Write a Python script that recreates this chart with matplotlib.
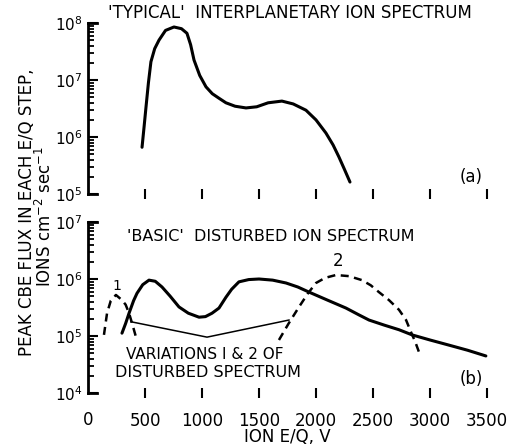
import matplotlib
matplotlib.use("Agg")
import matplotlib.pyplot as plt
import numpy as np

plt.rcParams['font.family'] = ['DejaVu Sans']
plt.rcParams['mathtext.fontset'] = 'dejavusans'

# ---- data ----
top_E = [474, 492, 509, 530, 552, 585, 623, 680, 754, 820, 868, 900, 930, 980, 1035,
         1090, 1149, 1210, 1290, 1386, 1480, 1580, 1701, 1800, 1912, 2000, 2087,
         2150, 2201, 2250, 2298]
top_logF = [5.82, 6.18, 6.53, 6.95, 7.32, 7.55, 7.70, 7.87, 7.93, 7.90, 7.82, 7.62, 7.35,
            7.08, 6.88, 6.76, 6.68, 6.60, 6.54, 6.51, 6.53, 6.60, 6.63, 6.58, 6.47,
            6.30, 6.07, 5.86, 5.65, 5.43, 5.21]

basic_E = [298, 330, 360, 400, 430, 480, 535, 590, 649, 720, 798, 880, 974, 1030, 1088,
           1149, 1210, 1260, 1324, 1410, 1500, 1620, 1737, 1840, 1939, 2100, 2263,
           2377, 2465, 2600, 2728, 2842, 3000, 3166, 3330, 3490]
basic_logF = [5.05, 5.22, 5.40, 5.62, 5.75, 5.90, 5.98, 5.96, 5.86, 5.70, 5.51, 5.40,
              5.33, 5.34, 5.40, 5.49, 5.68, 5.82, 5.95, 5.99, 6.00, 5.98, 5.93, 5.86,
              5.77, 5.63, 5.49, 5.37, 5.28, 5.19, 5.11, 5.02, 4.93, 4.84, 4.75, 4.65]

var1_E = [140, 167, 200, 245, 298, 330, 360, 390, 421]
var1_logF = [5.02, 5.40, 5.62, 5.72, 5.63, 5.55, 5.40, 5.20, 4.98]

var2_E = [1675, 1760, 1851, 1930, 2000, 2080, 2175, 2290, 2403, 2480, 2552, 2640,
          2728, 2790, 2833, 2870, 2903]
var2_logF = [4.93, 5.22, 5.51, 5.75, 5.93, 6.02, 6.07, 6.05, 5.98, 5.89, 5.77, 5.63,
             5.46, 5.28, 5.07, 4.90, 4.72]

pointer_E = [377, 1044, 1763]
pointer_logF = [5.25, 4.98, 5.28]

x_ticks = [500, 1000, 1500, 2000, 2500, 3000, 3500]
top_yticks = [1e5, 1e6, 1e7, 1e8]
top_ylabels = [r'$10^5$', r'$10^6$', r'$10^7$', r'$10^8$']
bot_yticks = [1e4, 1e5, 1e6, 1e7]
bot_ylabels = [r'$10^4$', r'$10^5$', r'$10^6$', r'$10^7$']

W, H = 514, 448
fig = plt.figure(figsize=(W / 100, H / 100), dpi=100)

left = 88 / W
right = 500 / W
xmax = 3614
ax1 = fig.add_axes([left, 1 - 194 / H, right - left, (194 - 23) / H])
ax2 = fig.add_axes([left, 1 - 393 / H, right - left, (393 - 222) / H])

for ax, yt, yl, ylim in [(ax1, top_yticks, top_ylabels, (1e5, 1e8)),
                         (ax2, bot_yticks, bot_ylabels, (1e4, 1e7))]:
    ax.set_yscale('log')
    ax.set_xlim(0, xmax)
    ax.set_ylim(*ylim)
    for s in ['top', 'right', 'bottom']:
        ax.spines[s].set_visible(False)
    ax.spines['left'].set_linewidth(2.0)
    ax.plot([0, 0.022], [0, 0], color='black', lw=2.0, transform=ax.transAxes,
            clip_on=False)
    ax.plot([0, 0.022], [1, 1], color='black', lw=2.0, transform=ax.transAxes,
            clip_on=False)
    ax.set_yticks(yt)
    ax.set_yticklabels(yl, fontsize=11)
    ax.tick_params(axis='y', which='major', direction='in', length=7, width=1.5, pad=4)
    ax.tick_params(axis='y', which='minor', direction='in', length=4.5, width=1.3)
    ax.set_xticks(x_ticks)
    ax.tick_params(axis='x', which='major', direction='inout', length=7, width=1.5)
    ax.patch.set_visible(False)

ax1.set_xticklabels([])
ax2.set_xticks([0], minor=True)
ax2.set_xticklabels(['0'], minor=True, fontsize=12)
ax2.set_xticklabels([str(v) for v in x_ticks], fontsize=12)
ax2.tick_params(axis='x', which='major', pad=10)
ax2.tick_params(axis='x', which='minor', length=0, pad=13)

ax1.plot(top_E, 10 ** np.array(top_logF), color='black', lw=2.2,
         solid_capstyle='round', solid_joinstyle='round')
ax2.plot(basic_E, 10 ** np.array(basic_logF), color='black', lw=2.2,
         solid_capstyle='round', solid_joinstyle='round')
ax2.plot(var1_E, 10 ** np.array(var1_logF), color='black', lw=1.8,
         linestyle=(0, (3.2, 2.2)))
ax2.plot(var2_E, 10 ** np.array(var2_logF), color='black', lw=1.8,
         linestyle=(0, (3.2, 2.2)))
ax2.plot(pointer_E, 10 ** np.array(pointer_logF), color='black', lw=1.1)

ax2.text(250, 10 ** 5.88, '1', fontsize=10, ha='center', va='center')
ax2.text(2190, 10 ** 6.31, '2', fontsize=12, ha='center', va='center')
ax2.text(1020, 10 ** 4.68, 'VARIATIONS I & 2 OF', fontsize=11, ha='center', va='center')
ax2.text(1050, 10 ** 4.36, 'DISTURBED SPECTRUM', fontsize=11.5, ha='center', va='center')

fig.text(290 / W, 1 - 13 / H, "'TYPICAL'  INTERPLANETARY ION SPECTRUM", fontsize=12,
         ha='center', va='center')
fig.text(271 / W, 1 - 236 / H, "'BASIC'  DISTURBED ION SPECTRUM", fontsize=11.5,
         ha='center', va='center')
fig.text(471 / W, 1 - 177 / H, '(a)', fontsize=12, ha='center', va='center')
fig.text(471 / W, 1 - 379 / H, '(b)', fontsize=12, ha='center', va='center')
fig.text(287 / W, 1 - 437 / H, 'ION E/Q, V', fontsize=12, ha='center', va='center')

fig.text(27 / W, 1 - 212 / H, 'PEAK CBE FLUX IN EACH E/Q STEP,', fontsize=12,
         rotation=90, ha='center', va='center')
fig.text(45 / W, 1 - 216 / H, r'IONS cm$^{-2}$ sec$^{-1}$', fontsize=12,
         rotation=90, ha='center', va='center')

fig.savefig('out.png', dpi=100)
